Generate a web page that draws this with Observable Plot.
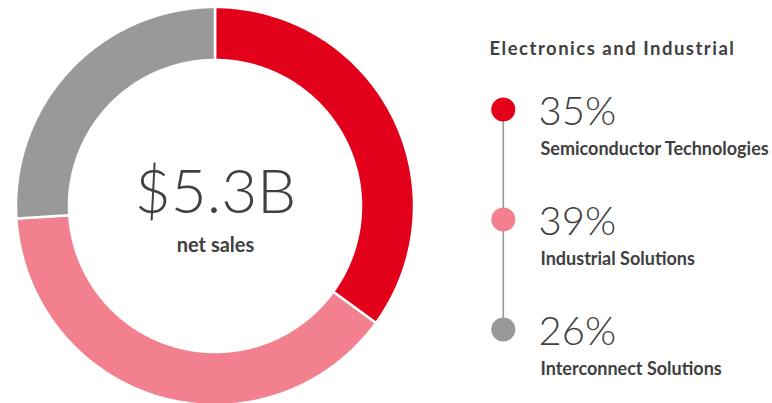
<!DOCTYPE html>
<html>
<head>
<meta charset="utf-8">
<script src="https://cdn.jsdelivr.net/npm/d3@7"></script>
<script src="https://cdn.jsdelivr.net/npm/@observablehq/plot@0.6"></script>
<style>
  html, body { margin: 0; padding: 0; background: #fff; }
  #wrap { position: relative; width: 772px; height: 403px; overflow: hidden; }
  #wrap > div, #wrap > svg { position: absolute; top: 0; }
  .legend-title text { letter-spacing: 1.5px; }
</style>
</head>
<body>
<div id="wrap"></div>
<script>
// ---- data ----
const categories = ["Semiconductor Technologies", "Industrial Solutions", "Interconnect Solutions"];
const shares = [35, 39, 26];
const colors = ["#e3001b", "#f2808f", "#999999"];
const title = "Electronics and Industrial";
const totalLabel = "$5.3B";
const totalSub = "net sales";

// ---- geometry (layout constants) ----
const W = 772, H = 403;
const cx = 215, cy = 206, R = 199;       // pixels
const innerRatio = 146 / 199;
const textColor = "#404040";

// build ring segments (annular sectors) from cumulative shares
const totalShare = d3.sum(shares);
const ring = [];
let acc = 0;
categories.forEach((c, i) => {
  const a0 = acc / totalShare * 2 * Math.PI;
  acc += shares[i];
  const a1 = acc / totalShare * 2 * Math.PI;
  const n = Math.max(2, Math.ceil((a1 - a0) / (Math.PI / 360)));
  for (let k = 0; k <= n; k++) {
    const a = a0 + (a1 - a0) * k / n;
    ring.push({
      category: c,
      xo: Math.sin(a), yo: Math.cos(a),
      xi: Math.sin(a) * innerRatio, yi: Math.cos(a) * innerRatio
    });
  }
});

const color = {domain: categories, range: colors};

const donut = Plot.plot({
  width: W, height: H,
  margin: 0,
  x: {domain: [-cx / R, (W - cx) / R], range: [0, W], axis: null},
  y: {domain: [-(H - cy) / R, cy / R], range: [H, 0], axis: null},
  color,
  style: {background: "transparent", overflow: "visible"},
  marks: [
    Plot.area(ring, {
      x1: "xo", y1: "yo", x2: "xi", y2: "yi",
      z: "category", fill: "category",
      stroke: "white", strokeWidth: 2.5, curve: "linear"
    }),
    Plot.text([totalLabel], {
      x: () => 0, y: () => 0, text: d => d,
      fontFamily: "Lato", fontWeight: 300, fontSize: 62,
      fill: textColor, textAnchor: "middle", lineAnchor: "bottom", dy: 6
    }),
    Plot.text([totalSub], {
      x: () => 0, y: () => 0, text: d => d,
      fontFamily: "Lato", fontWeight: 700, fontSize: 20,
      fill: textColor, textAnchor: "middle", lineAnchor: "bottom", dy: 45
    })
  ]
});
donut.style.left = "0px";

const items = categories.map((c, i) => ({category: c, share: shares[i]}));
const LW = 292;
const legend = Plot.plot({
  width: LW, height: H,
  margin: 0,
  x: {type: "identity", axis: null},
  y: {type: "point", domain: categories, range: [108.7, 328.7], padding: 0, axis: null},
  color,
  style: {background: "transparent", overflow: "visible"},
  marks: [
    Plot.text([title], {
      frameAnchor: "top-left", text: d => d, dx: 9, dy: 54,
      lineAnchor: "bottom", textAnchor: "start",
      fontFamily: "Lato", fontWeight: 700, fontSize: 18.5, fill: textColor,
      className: "legend-title"
    }),
    Plot.ruleX([22.8], {y1: () => categories[0], y2: () => categories[categories.length - 1], stroke: "#999999", strokeWidth: 1.6}),
    Plot.dot(items, {x: 22.8, y: "category", r: 12, fill: "category", stroke: null}),
    Plot.text(items, {
      x: 58, y: "category", text: d => d.share + "%",
      textAnchor: "start", lineAnchor: "bottom", dy: 15,
      fontFamily: "Lato", fontWeight: 300, fontSize: 40, fill: textColor
    }),
    Plot.text(items, {
      x: 60, y: "category", text: "category",
      textAnchor: "start", lineAnchor: "bottom", dy: 45.7,
      fontFamily: "Lato", fontWeight: 700, fontSize: 18, fill: textColor
    })
  ]
});
legend.style.left = "480px";

const wrap = document.getElementById("wrap");
wrap.appendChild(donut);
wrap.appendChild(legend);
</script>
</body>
</html>
